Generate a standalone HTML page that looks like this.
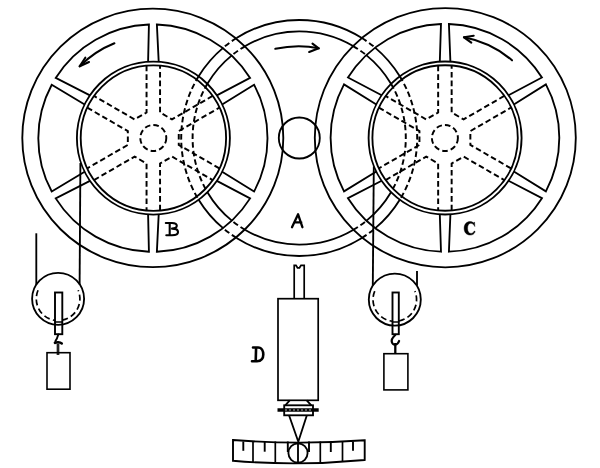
<!DOCTYPE html>
<html><head><meta charset="utf-8"><style>
html,body{margin:0;padding:0;background:#fff;}
body{width:600px;height:468px;overflow:hidden;font-family:"Liberation Sans",sans-serif;}
svg{display:block}
.s{fill:none;stroke:#000;stroke-width:1.85}
.d{fill:none;stroke:#000;stroke-width:1.95;stroke-dasharray:5.6 3.1}
.d2{fill:none;stroke:#000;stroke-width:1.7;stroke-dasharray:6 3.4}
.a{fill:none;stroke:#000;stroke-width:2.1;stroke-linecap:round;stroke-linejoin:round}
</style></head><body>
<svg width="600" height="468" viewBox="0 0 600 468">
<rect width="600" height="468" fill="#fff"/>
<ellipse cx="152.8" cy="137.9" rx="130.5" ry="129.2" class="s"/>
<circle cx="153.4" cy="138.1" r="76.5" class="s"/>
<circle cx="153.4" cy="138.1" r="72.7" class="s"/>
<circle cx="153.3" cy="138" r="13" class="d"/>
<path d="M148.1,61.78 L148.93,24.52 A114.6,113.7 0 0 0 55.7,77.93 L89.96,95.35" class="s"/>
<path d="M84.66,104.53 L51.73,84.74 A114.6,113.7 0 0 0 51.73,191.56 L84.66,171.67" class="s"/>
<path d="M89.96,180.85 L55.7,198.37 A114.6,113.7 0 0 0 148.93,251.78 L148.1,214.42" class="s"/>
<path d="M158.7,214.42 L156.87,251.78 A114.6,113.7 0 0 0 250.1,198.37 L216.84,180.85" class="s"/>
<path d="M222.14,171.67 L254.07,191.56 A114.6,113.7 0 0 0 254.07,84.74 L222.14,104.53" class="s"/>
<path d="M216.84,95.35 L250.1,77.93 A114.6,113.7 0 0 0 156.87,24.52 L158.7,61.78" class="s"/>
<path d="M146.55,65.61 L146.55,112.5 L134.59,119.4 L93.99,95.96" class="d"/>
<path d="M87.24,107.65 L127.84,131.1 L127.84,144.9 L87.24,168.35" class="d"/>
<path d="M93.99,180.04 L134.59,156.6 L146.55,163.5 L146.55,210.39" class="d"/>
<path d="M160.05,210.39 L160.05,163.5 L172.01,156.6 L212.61,180.04" class="d"/>
<path d="M219.36,168.35 L178.76,144.9 L178.76,131.1 L219.36,107.65" class="d"/>
<path d="M212.61,95.96 L172.01,119.4 L160.05,112.5 L160.05,65.61" class="d"/>
<ellipse cx="445.3" cy="137.7" rx="130.5" ry="129.6" class="s"/>
<circle cx="445.1" cy="138" r="76.5" class="s"/>
<circle cx="445.1" cy="138" r="72.7" class="s"/>
<circle cx="444.9" cy="138" r="13" class="d"/>
<path d="M439.8,61.68 L440.99,24.02 A114.35,113.9 0 0 0 347.96,77.52 L381.66,95.25" class="s"/>
<path d="M376.36,104.43 L344,84.35 A114.35,113.9 0 0 0 344,191.35 L376.36,171.57" class="s"/>
<path d="M381.66,180.75 L347.96,198.18 A114.35,113.9 0 0 0 440.99,251.68 L439.8,214.32" class="s"/>
<path d="M450.4,214.32 L448.91,251.68 A114.35,113.9 0 0 0 541.94,198.18 L508.54,180.75" class="s"/>
<path d="M513.84,171.57 L545.9,191.35 A114.35,113.9 0 0 0 545.9,84.35 L513.84,104.43" class="s"/>
<path d="M508.54,95.25 L541.94,77.52 A114.35,113.9 0 0 0 448.91,24.02 L450.4,61.68" class="s"/>
<path d="M438.15,65.61 L438.15,112.5 L426.19,119.4 L385.59,95.96" class="d"/>
<path d="M378.84,107.65 L419.44,131.1 L419.44,144.9 L378.84,168.35" class="d"/>
<path d="M385.59,180.04 L426.19,156.6 L438.15,163.5 L438.15,210.39" class="d"/>
<path d="M451.65,210.39 L451.65,163.5 L463.61,156.6 L504.21,180.04" class="d"/>
<path d="M510.96,168.35 L470.36,144.9 L470.36,131.1 L510.96,107.65" class="d"/>
<path d="M504.21,95.96 L463.61,119.4 L451.65,112.5 L451.65,65.61" class="d"/>
<path d="M361.89,38.03 A118,118 0 0 0 236.51,38.03" class="s"/>
<path d="M236.51,237.97 A118,118 0 0 0 361.89,237.97" class="s"/>
<path d="M361.89,38.03 A118,118 0 0 1 375.05,47.61" class="d"/>
<path d="M375.05,47.61 A118,118 0 0 1 399.78,76.3" class="s"/>
<path d="M361.89,237.97 A118,118 0 0 0 375.05,228.39" class="d"/>
<path d="M375.05,228.39 A118,118 0 0 0 399.78,199.7" class="s"/>
<path d="M236.51,38.03 A118,118 0 0 0 223.35,47.61" class="d"/>
<path d="M223.35,47.61 A118,118 0 0 0 198.62,76.3" class="s"/>
<path d="M236.51,237.97 A118,118 0 0 1 223.35,228.39" class="d"/>
<path d="M223.35,228.39 A118,118 0 0 1 198.62,199.7" class="s"/>
<path d="M399.78,76.3 A118,118 0 0 1 399.78,199.7" class="d"/>
<path d="M198.62,76.3 A118,118 0 0 0 198.62,199.7" class="d"/>
<path d="M353.11,46.04 A106.6,106.6 0 0 0 245.29,46.04" class="s"/>
<path d="M245.29,229.96 A106.6,106.6 0 0 0 353.11,229.96" class="s"/>
<path d="M353.11,46.04 A106.6,106.6 0 0 1 366.27,55.14" class="d"/>
<path d="M366.27,55.14 A106.6,106.6 0 0 1 391,83.81" class="s"/>
<path d="M353.11,229.96 A106.6,106.6 0 0 0 366.27,220.86" class="d"/>
<path d="M366.27,220.86 A106.6,106.6 0 0 0 391,192.19" class="s"/>
<path d="M245.29,46.04 A106.6,106.6 0 0 0 232.13,55.14" class="d"/>
<path d="M232.13,55.14 A106.6,106.6 0 0 0 207.4,83.81" class="s"/>
<path d="M245.29,229.96 A106.6,106.6 0 0 1 232.13,220.86" class="d"/>
<path d="M232.13,220.86 A106.6,106.6 0 0 1 207.4,192.19" class="s"/>
<path d="M391,83.81 A106.6,106.6 0 0 1 391,192.19" class="d"/>
<path d="M207.4,83.81 A106.6,106.6 0 0 0 207.4,192.19" class="d"/>
<circle cx="299.3" cy="138" r="20.5" class="s"/>
<path d="M114.4,43.3 A102.4,102.4 0 0 0 79.7,66.3" class="a"/>
<path d="M85.3,57.7 L79.7,66.3 L89,62" class="a"/>
<path d="M512,60.3 A103,103 0 0 0 464,37.3" class="a"/>
<path d="M473.7,35.7 L464,37.3 L471.3,42.7" class="a"/>
<path d="M275.3,48.8 Q298,44 318.7,48.3" class="a"/>
<path d="M312.5,43.7 L318.7,48.3 L309.2,52" class="a"/>
<path d="M38.03,290.28 A21.8,21.8 0 1 0 78.17,290.28" class="d2"/>
<path d="M36.3,233.3 L36.3,284.8" class="s"/>
<path d="M80.4,163 L79.6,284.8" class="s"/>
<rect x="55" y="292.5" width="7.3" height="41.7" class="s" style="fill:#fff;stroke-width:1.9"/>
<path d="M55,322 L62.3,322" class="s" style="stroke-width:1.5"/>
<circle cx="58.1" cy="298.8" r="26" class="s"/>
<path d="M374.73,291.08 A21.8,21.8 0 1 0 414.87,291.08" class="d2"/>
<path d="M373.8,166.5 L372.8,285.6" class="s"/>
<path d="M417,271 L417,285.6" class="s"/>
<rect x="392.5" y="292.5" width="6.3" height="41.7" class="s" style="fill:#fff;stroke-width:1.9"/>
<path d="M392.5,322 L398.8,322" class="s" style="stroke-width:1.5"/>
<circle cx="394.8" cy="299.6" r="26" class="s"/>
<path d="M58.3,334.5 C57.6,337 56.8,339.5 55.4,341.2" class="a" style="stroke-width:1.9"/>
<path d="M54.9,342.9 C56.5,341.8 60,342 61.8,343.5" class="a" style="stroke-width:2.5"/>
<path d="M58,343.5 L58,355" style="stroke-width:2.7;stroke:#222" class="s"/>
<rect x="47" y="352.7" width="23" height="36.5" class="s" style="stroke-width:1.6"/>
<path d="M395.3,335 C393,337 391.2,340 391.9,342.3 C392.9,345.6 397.6,345.6 399.1,341" class="a" style="stroke-width:2.2"/>
<path d="M395.3,343 L395.3,354" style="stroke-width:2.3" class="s"/>
<rect x="383.9" y="353.7" width="24" height="36.2" class="s" style="stroke-width:1.6"/>
<path d="M294.2,298.5 L294.2,265.3 L296,265.3 L297.5,267.8 L299.5,267.8 L301,265.3 L304.2,265.3 L304.2,298.5" class="s" style="stroke-width:1.7"/>
<rect x="278" y="298.7" width="40.2" height="101.6" class="s" style="stroke-width:1.7"/>
<path d="M289.7,400.3 L285.3,405.3 M306.7,400.3 L311.3,405.3" class="s"/>
<rect x="284.2" y="405.3" width="28.8" height="10" class="s"/>
<path d="M277.5,410 L318.7,410" style="stroke:#000;stroke-width:3.6;fill:none"/>
<path d="M285,410 L312.5,410" style="stroke:#fff;stroke-width:0.7;fill:none;stroke-dasharray:2 2"/>
<path d="M289.2,415.8 L298.3,441.7 L306.7,415.8" class="s"/>
<path d="M233,440 Q298,445 364.7,440.3 L364.7,460 Q298,466.3 233,460.8 Z" class="s" style="stroke-width:1.9"/>
<path d="M253,441.5 L253,462" class="s" style="stroke-width:1.7"/>
<path d="M275.3,441.5 L275.3,462" class="s" style="stroke-width:1.7"/>
<path d="M320.3,441.5 L320.3,462" class="s" style="stroke-width:1.7"/>
<path d="M342.5,441.5 L342.5,462" class="s" style="stroke-width:1.7"/>
<path d="M243.3,441.5 L243.3,450.8" class="s" style="stroke-width:1.9"/>
<path d="M264.7,441.5 L264.7,451.7" class="s" style="stroke-width:1.9"/>
<path d="M287.8,441.5 L287.8,452" class="s" style="stroke-width:1.9"/>
<path d="M309,441.5 L309,452" class="s" style="stroke-width:1.9"/>
<path d="M330.8,441.5 L330.8,452" class="s" style="stroke-width:1.9"/>
<path d="M353,441.5 L353,450.8" class="s" style="stroke-width:1.9"/>
<circle cx="298" cy="453" r="9.6" class="s"/>
<path d="M298,442.5 L298,463" class="s"/>
<path d="M292,227.2 L298.1,214.3 L302.4,227.2 M294.8,222.3 L301.3,222.3" class="a" style="stroke-width:2.3"/>
<path d="M165.8,223 L172,223 C176,223 176.8,224.6 176.8,225.8 C176.8,227.8 175,228.5 172,228.6 C176,228.6 178,230 178,232 C178,234.5 176,235.3 172,235.3 L166.3,235.3 M169.7,223 L169.7,235.3" class="a" style="stroke-width:2.1"/>
<path d="M253,347.5 L258,347.5 C262,347.5 263.3,351.5 263.3,354.5 C263.3,358 261.5,361.2 257,361.2 L252,361.2 M256.1,347.5 L255.7,361.2" class="a" style="stroke-width:2.6"/>
<path d="M474.6,222.2 L474.8,226.6 C473.5,224.2 472.5,223.3 470.8,223.3 C468.6,223.3 467.6,225.5 467.6,228.3 C467.6,231.5 468.8,233.4 471,233.4 C472.6,233.4 473.5,232.6 474.2,231 L475.2,231.6 C474.3,234 472.6,235.1 470.3,235.1 C466.5,235.1 464.1,232.3 464.1,228.3 C464.1,224.3 466.6,221.6 470.2,221.6 C471.7,221.6 472.8,222.2 473.8,223 L474.1,222.2 Z" fill="#000" stroke="#000" stroke-width="0.4" stroke-linejoin="round"/>
</svg>
</body></html>
